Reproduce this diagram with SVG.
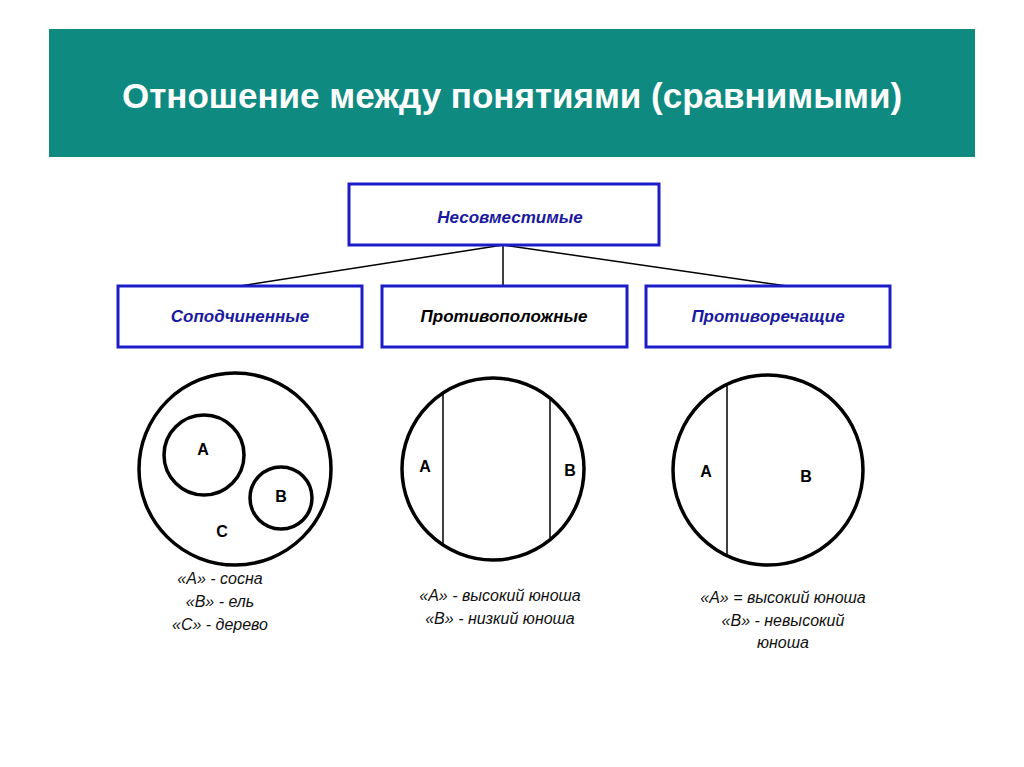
<svg xmlns="http://www.w3.org/2000/svg" width="1024" height="767" viewBox="0 0 1024 767">
<style>
.box{fill:#fff;stroke:#1c1cc8;stroke-width:3}
.lbl{font-family:"Liberation Sans",Arial,sans-serif;font-weight:bold;font-style:italic;font-size:17px;text-anchor:middle}
.c{fill:none;stroke:#000;stroke-width:3.5}
.v{stroke:#000;stroke-width:1.5}
.l{font-family:"Liberation Sans",Arial,sans-serif;font-weight:bold;font-size:16px;text-anchor:middle}
.n{font-family:"Liberation Sans",Arial,sans-serif;font-style:italic;font-size:16px;text-anchor:middle;fill:#111}
</style>
<rect width="1024" height="767" fill="#fff"/>
<g id="header"><rect x="49" y="29" width="926" height="128" fill="#0f8a80"/>
<text x="512" y="108" font-family="Liberation Sans,Arial,sans-serif" font-weight="bold" font-size="35" fill="#fff" text-anchor="middle">Отношение между понятиями (сравнимыми)</text></g>
<g id="connectors" stroke="#000" stroke-width="1.5">
<line x1="503" y1="245" x2="240" y2="286"/><line x1="503" y1="245" x2="503" y2="286"/><line x1="503" y1="245" x2="787" y2="286"/></g>
<g id="top"><rect class="box" x="349" y="184" width="310" height="61"/><text class="lbl" x="510" y="223" fill="#1a1aa0">Несовместимые</text></g>
<g id="sub1"><rect class="box" x="118" y="286" width="244" height="61"/><text class="lbl" x="240" y="322" fill="#1a1aa0">Соподчиненные</text></g>
<g id="sub2"><rect class="box" x="382" y="286" width="245" height="61"/><text class="lbl" x="504" y="322" fill="#000">Противоположные</text></g>
<g id="sub3"><rect class="box" x="646" y="286" width="244" height="61"/><text class="lbl" x="768" y="322" fill="#1a1aa0">Противоречащие</text></g>
<g id="diagram1"><circle class="c" cx="235" cy="469" r="96"/><circle class="c" cx="204" cy="455" r="40"/><circle class="c" cx="281" cy="498" r="31"/>
<text class="l" x="203" y="455">А</text><text class="l" x="281" y="502" font-size="14">В</text><text class="l" x="222" y="537" font-weight="normal" font-size="17">С</text>
<text class="n" x="220" y="584">«А» - сосна</text><text class="n" x="220" y="607">«В» - ель</text><text class="n" x="220" y="630">«С» - дерево</text></g>
<g id="diagram2"><circle class="c" cx="493" cy="469" r="91"/><line class="v" x1="443" y1="393" x2="443" y2="545"/><line class="v" x1="550" y1="398" x2="550" y2="540"/>
<text class="l" x="425" y="472">А</text><text class="l" x="570" y="476">В</text>
<text class="n" x="500" y="601">«А» - высокий юноша</text><text class="n" x="500" y="624">«В» - низкий юноша</text></g>
<g id="diagram3"><circle class="c" cx="768" cy="470" r="95"/><line class="v" x1="727" y1="385" x2="727" y2="555"/>
<text class="l" x="706" y="477">А</text><text class="l" x="806" y="482">В</text>
<text class="n" x="783" y="603">«А» = высокий юноша</text><text class="n" x="783" y="626">«В» - невысокий</text><text class="n" x="783" y="648">юноша</text></g>
</svg>
